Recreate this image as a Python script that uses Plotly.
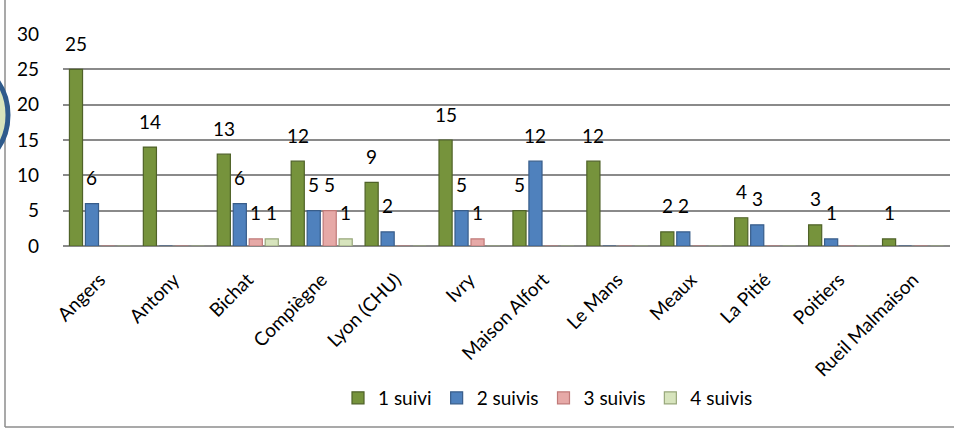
import plotly.graph_objects as go

categories = ["Angers", "Antony", "Bichat", "Compiègne", "Lyon (CHU)", "Ivry",
              "Maison Alfort", "Le Mans", "Meaux", "La Pitié", "Poitiers", "Rueil Malmaison"]
suivi_1 = [25, 14, 13, 12, 9, 15, 5, 12, 2, 4, 3, 1]
suivi_2 = [6, 0, 6, 5, 2, 5, 12, 0, 2, 3, 1, 0]
suivi_3 = [0, 0, 1, 5, 0, 1, 0, 0, 0, 0, 0, 0]
suivi_4 = [0, 0, 1, 1, 0, 0, 0, 0, 0, 0, 0, 0]
series_names = ["1 suivi", "2 suivis", "3 suivis", "4 suivis"]
y_ticks = [0, 5, 10, 15, 20, 25, 30]

series = [suivi_1, suivi_2, suivi_3, suivi_4]
fills = ["#76933C", "#4F81BD", "#E6A9A7", "#D7E4BD"]
edges = ["#4F6228", "#385D8A", "#C07A78", "#98A77B"]

W, H = 954, 428
L, R, T, B = 63, 4, 34, 182
pw, ph = W - L - R, H - T - B

def px_x(p):
    return (p - L) / pw

def px_y(p):
    return (H - B - p) / ph

BARGAP = 0.135
xs = list(range(len(categories)))

fig = go.Figure()
for k, (vals, name) in enumerate(zip(series, series_names)):
    fig.add_trace(go.Bar(
        x=xs, y=vals, name=name,
        marker=dict(color=fills[k], line=dict(color=edges[k], width=1.2)),
    ))

FONT = "Lato, 'Open Sans', sans-serif"
slot = (1 - BARGAP) / len(series)
annotations = []
for k, vals in enumerate(series):
    off = (-1.5 + k) * slot
    for i, v in enumerate(vals):
        if v:
            annotations.append(dict(
                x=i + off, y=v, xref="x", yref="y", text=str(v),
                showarrow=False, yshift=26,
                font=dict(family=FONT, size=19, color="#000000"),
            ))

shapes = [
    dict(type="line", xref="paper", yref="paper",
         x0=px_x(5), x1=px_x(5), y0=px_y(0), y1=px_y(427),
         line=dict(color="#8C8C8C", width=1.5)),
    dict(type="line", xref="paper", yref="paper",
         x0=px_x(5), x1=px_x(960), y0=px_y(427), y1=px_y(427),
         line=dict(color="#8C8C8C", width=1.5)),
    dict(type="circle", xref="paper", yref="paper",
         x0=px_x(-112), x1=px_x(8), y0=px_y(175), y1=px_y(55),
         line=dict(color="#2F5B8C", width=5), fillcolor="#D8E4BC"),
]

fig.update_layout(
    width=W, height=H,
    margin=dict(l=L, r=R, t=T, b=B, autoexpand=False),
    paper_bgcolor="white", plot_bgcolor="white",
    barmode="group", bargap=BARGAP, bargroupgap=0.18,
    font=dict(family=FONT, size=19, color="#000000"),
    xaxis=dict(
        range=[-0.5, len(categories) - 0.5],
        tickmode="array", tickvals=xs, ticktext=categories,
        tickangle=-45, tickfont=dict(size=19),
        showgrid=False, zeroline=False, showline=False, ticks="",
        ticklabelstandoff=18, automargin=False,
    ),
    yaxis=dict(
        range=[0, 30], tickmode="array", tickvals=y_ticks,
        showgrid=True, gridcolor="#8A8A8A", gridwidth=1.5,
        zeroline=True, zerolinecolor="#8A8A8A", zerolinewidth=1.5,
        showline=False, ticks="", tickfont=dict(size=19),
        ticklabelstandoff=23, automargin=False,
    ),
    legend=dict(
        orientation="h", x=px_x(338), xanchor="left",
        y=px_y(398), yanchor="middle",
        font=dict(size=19), itemwidth=30,
        bgcolor="rgba(0,0,0,0)",
    ),
    annotations=annotations,
    shapes=shapes,
    showlegend=True,
)

fig.write_html(
    "out.html",
    config={"displayModeBar": False},
    post_script="document.body.style.margin='0';document.body.style.overflow='hidden';",
)
